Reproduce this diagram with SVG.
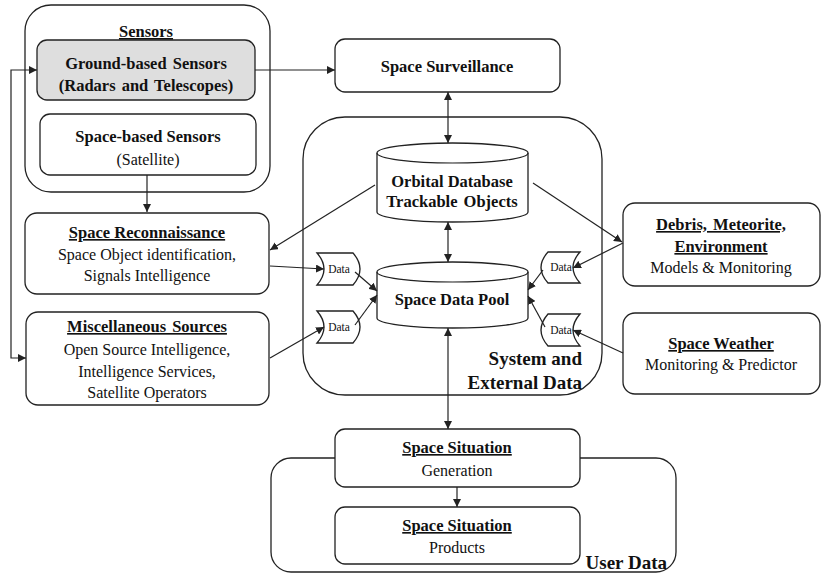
<svg xmlns="http://www.w3.org/2000/svg" width="822" height="574" viewBox="0 0 822 574">
<style>
.box{fill:#fff;stroke:#222;stroke-width:1.3}
.gbox{fill:#dedede;stroke:#222;stroke-width:1.3}
.c{fill:none;stroke:#222;stroke-width:1.2}
</style>
<defs>
<marker id="ah" viewBox="0 0 10 10" refX="10" refY="5" markerWidth="8" markerHeight="8" markerUnits="userSpaceOnUse" orient="auto-start-reverse">
<path d="M0,0 L10,5 L0,10 Z" fill="#222"/>
</marker>
</defs>

<g id="user-data-group">
<rect class="box" x="271" y="458" width="405" height="114" rx="20"/>
<text font-family="Liberation Serif" font-size="19" font-weight="bold" text-anchor="end" fill="#111" x="667" y="569">User Data</text>
</g>

<g id="sensors-group">
<rect class="box" x="25" y="5" width="245" height="187" rx="26"/>
<text font-family="Liberation Serif" font-size="16.5" font-weight="bold" text-anchor="middle" fill="#111" text-decoration="underline" x="146" y="37">Sensors</text>
</g>

<g id="system-group">
<rect class="box" x="303" y="117" width="299" height="278" rx="42"/>
<text font-family="Liberation Serif" font-size="19" font-weight="bold" text-anchor="end" fill="#111" x="582" y="365">System and</text>
<text font-family="Liberation Serif" font-size="19" font-weight="bold" text-anchor="end" fill="#111" x="582" y="389">External Data</text>
</g>

<g id="ground-sensors">
<rect class="gbox" x="37" y="40" width="218" height="60" rx="10"/>
<text font-family="Liberation Serif" font-size="16.5" font-weight="bold" text-anchor="middle" fill="#111" x="146" y="69" word-spacing="2">Ground-based Sensors</text>
<text font-family="Liberation Serif" font-size="16.5" font-weight="bold" text-anchor="middle" fill="#111" x="146" y="91" word-spacing="2">(Radars and Telescopes)</text>
</g>

<g id="space-sensors">
<rect class="box" x="40" y="114" width="216" height="61" rx="10"/>
<text font-family="Liberation Serif" font-size="16.5" font-weight="bold" text-anchor="middle" fill="#111" x="148" y="142">Space-based Sensors</text>
<text font-family="Liberation Serif" font-size="16" text-anchor="middle" fill="#111" x="148" y="165">(Satellite)</text>
</g>

<g id="space-surveillance">
<rect class="box" x="335" y="39" width="225" height="53" rx="10"/>
<text font-family="Liberation Serif" font-size="16.5" font-weight="bold" text-anchor="middle" fill="#111" x="447" y="72">Space Surveillance</text>
</g>

<g id="space-reconnaissance">
<rect class="box" x="25" y="213" width="244" height="81" rx="12"/>
<text font-family="Liberation Serif" font-size="16.5" font-weight="bold" text-anchor="middle" fill="#111" text-decoration="underline" x="147" y="238">Space Reconnaissance</text>
<text font-family="Liberation Serif" font-size="16" text-anchor="middle" fill="#111" x="147" y="260">Space Object identification,</text>
<text font-family="Liberation Serif" font-size="16" text-anchor="middle" fill="#111" x="147" y="281">Signals Intelligence</text>
</g>

<g id="misc-sources">
<rect class="box" x="26" y="312" width="243" height="93" rx="12"/>
<text font-family="Liberation Serif" font-size="16.5" font-weight="bold" text-anchor="middle" fill="#111" text-decoration="underline" x="147" y="332" word-spacing="2">Miscellaneous Sources</text>
<text font-family="Liberation Serif" font-size="16" text-anchor="middle" fill="#111" x="147" y="355">Open Source Intelligence,</text>
<text font-family="Liberation Serif" font-size="16" text-anchor="middle" fill="#111" x="147" y="377">Intelligence Services,</text>
<text font-family="Liberation Serif" font-size="16" text-anchor="middle" fill="#111" x="147" y="398">Satellite Operators</text>
</g>

<g id="orbital-database">
<path class="box" d="M377,153 A75.5,10 0 0,1 528,153 L528,212 A75.5,10 0 0,1 377,212 Z"/>
<path class="c" d="M377,153 A75.5,10 0 0,0 528,153"/>
<text font-family="Liberation Serif" font-size="16.5" font-weight="bold" text-anchor="middle" fill="#111" x="452" y="187">Orbital Database</text>
<text font-family="Liberation Serif" font-size="16.5" font-weight="bold" text-anchor="middle" fill="#111" x="452" y="207" word-spacing="2">Trackable Objects</text>
</g>

<g id="space-data-pool">
<path class="box" d="M377,272 A75.5,10 0 0,1 528,272 L528,318 A75.5,10 0 0,1 377,318 Z"/>
<path class="c" d="M377,272 A75.5,10 0 0,0 528,272"/>
<text font-family="Liberation Serif" font-size="16.5" font-weight="bold" text-anchor="middle" fill="#111" x="452" y="305">Space Data Pool</text>
</g>

<g id="data-left-1">
<path class="box" d="M317,253 L353,253 Q367,269 353,285 L317,285 Q331,269 317,253 Z"/>
<text font-family="Liberation Serif" font-size="11.5" text-anchor="middle" fill="#111" x="339" y="273">Data</text>
</g>
<g id="data-left-2">
<path class="box" d="M317,311 L353,311 Q367,327 353,343 L317,343 Q331,327 317,311 Z"/>
<text font-family="Liberation Serif" font-size="11.5" text-anchor="middle" fill="#111" x="339" y="331">Data</text>
</g>
<g id="data-right-1">
<path class="box" d="M548,252 L580,252 Q566,267.5 580,283 L548,283 Q534,267.5 548,252 Z"/>
<text font-family="Liberation Serif" font-size="11.5" text-anchor="middle" fill="#111" x="561" y="271">Data</text>
</g>
<g id="data-right-2">
<path class="box" d="M548,314 L580,314 Q566,330 580,346 L548,346 Q534,330 548,314 Z"/>
<text font-family="Liberation Serif" font-size="11.5" text-anchor="middle" fill="#111" x="561" y="334">Data</text>
</g>

<g id="debris">
<rect class="box" x="623" y="203" width="197" height="83" rx="12"/>
<text font-family="Liberation Serif" font-size="16.5" font-weight="bold" text-anchor="middle" fill="#111" text-decoration="underline" x="721" y="230" word-spacing="2">Debris, Meteorite,</text>
<text font-family="Liberation Serif" font-size="16.5" font-weight="bold" text-anchor="middle" fill="#111" text-decoration="underline" x="721" y="252">Environment</text>
<text font-family="Liberation Serif" font-size="16" text-anchor="middle" fill="#111" x="721" y="273">Models &amp; Monitoring</text>
</g>

<g id="space-weather">
<rect class="box" x="623" y="313" width="197" height="81" rx="12"/>
<text font-family="Liberation Serif" font-size="16.5" font-weight="bold" text-anchor="middle" fill="#111" text-decoration="underline" x="721" y="349">Space Weather</text>
<text font-family="Liberation Serif" font-size="16" text-anchor="middle" fill="#111" x="721" y="370">Monitoring &amp; Predictor</text>
</g>

<g id="space-situation-generation">
<rect class="box" x="335" y="429" width="245" height="58" rx="10"/>
<text font-family="Liberation Serif" font-size="16.5" font-weight="bold" text-anchor="middle" fill="#111" text-decoration="underline" x="457" y="453">Space Situation</text>
<text font-family="Liberation Serif" font-size="16" text-anchor="middle" fill="#111" x="457" y="476">Generation</text>
</g>

<g id="space-situation-products">
<rect class="box" x="335" y="507" width="245" height="57" rx="10"/>
<text font-family="Liberation Serif" font-size="16.5" font-weight="bold" text-anchor="middle" fill="#111" text-decoration="underline" x="457" y="531">Space Situation</text>
<text font-family="Liberation Serif" font-size="16" text-anchor="middle" fill="#111" x="457" y="553">Products</text>
</g>

<g id="connectors">
<path class="c" d="M37,70 L11,70 L11,358 L26,358" marker-start="url(#ah)" marker-end="url(#ah)"/>
<path class="c" d="M255,70 L335,70" marker-end="url(#ah)"/>
<path class="c" d="M448,92 L448,143" marker-start="url(#ah)" marker-end="url(#ah)"/>
<path class="c" d="M448,222 L448,262" marker-start="url(#ah)" marker-end="url(#ah)"/>
<path class="c" d="M448,328 L448,429" marker-start="url(#ah)" marker-end="url(#ah)"/>
<path class="c" d="M457,487 L457,507" marker-end="url(#ah)"/>
<path class="c" d="M147,175 L147,212" marker-end="url(#ah)"/>
<path class="c" d="M375,185 L270,250" marker-end="url(#ah)"/>
<path class="c" d="M533,183 L622,242" marker-end="url(#ah)"/>
<path class="c" d="M270,266 L324,269" marker-end="url(#ah)"/>
<path class="c" d="M270,358 L324,327" marker-end="url(#ah)"/>
<path class="c" d="M355,272 L377,291" marker-end="url(#ah)"/>
<path class="c" d="M355,325 L377,295" marker-end="url(#ah)"/>
<path class="c" d="M543,270 L528,290" marker-end="url(#ah)"/>
<path class="c" d="M545,327 L528,296" marker-end="url(#ah)"/>
<path class="c" d="M623,243 L573,268" marker-end="url(#ah)"/>
<path class="c" d="M623,353 L573,330" marker-end="url(#ah)"/>
</g>
</svg>
